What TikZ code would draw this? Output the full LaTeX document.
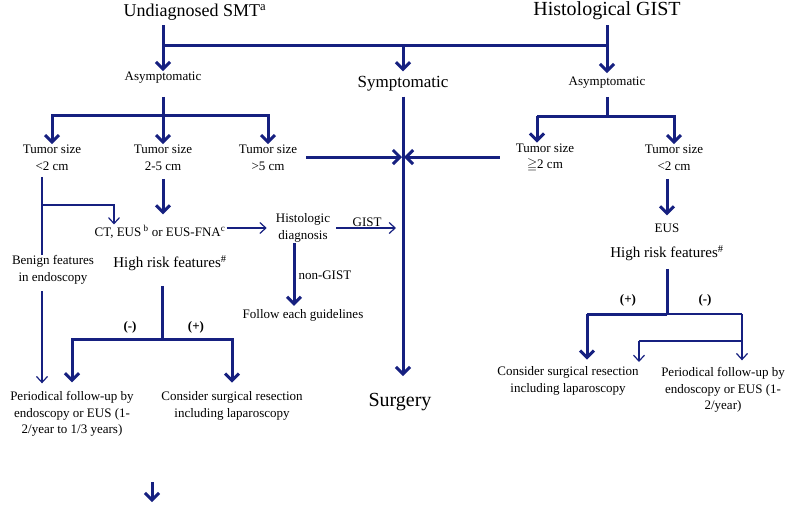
\documentclass[tikz,border=0pt]{standalone}
\usepackage{fontspec}
\setmainfont{Liberation Serif}
\usepackage{amsmath}
\usepackage{amssymb}
\usepackage{tikz}
\usepackage{xcolor}
\usetikzlibrary{arrows.meta}
\definecolor{flowblue}{RGB}{22,32,128}

\begin{document}
\begin{tikzpicture}[x=1pt,y=-1pt]
\tikzstyle{every node}+=[inner sep=1pt,align=center,font=\fontsize{13}{16.5}\selectfont]
\tikzstyle{thickline}=[draw=flowblue,line width=3pt]
\tikzstyle{medline}=[draw=flowblue,line width=2pt]
\tikzstyle{thinline}=[draw=flowblue,line width=1.2pt]
\tikzstyle{thickarrow}=[thickline,-{Straight Barb[length=7pt,width=14pt]}]
\tikzstyle{thinarrow}=[thinline,-{Straight Barb[length=6pt,width=11pt]}]
\tikzstyle{signlabel}=[font=\fontsize{13}{16}\selectfont\bfseries]
\useasboundingbox (0,0) rectangle (793,504);
\draw (195,12) node[font=\fontsize{18}{20}\selectfont] (smt) {Undiagnosed SMT\textsuperscript{a}};
\draw (607,11) node[font=\fontsize{20}{22}\selectfont] (gist) {Histological GIST};
\draw (163,78) node (asymL) {Asymptomatic};
\draw (403,84) node[font=\fontsize{17}{19}\selectfont] (sympt) {Symptomatic};
\draw (607,83) node (asymR) {Asymptomatic};
\draw (52,158) node (ts1) {Tumor size\\<2 cm};
\draw (163,158) node (ts2) {Tumor size\\2-5 cm};
\draw (268,158) node (ts3) {Tumor size\\>5 cm};
\draw (545,158) node (ts4) {Tumor size\\$\geqq$2 cm};
\draw (674,158) node (ts5) {Tumor size\\<2 cm};
\draw (160,232) node (ct) {CT, EUS\,\textsuperscript{b} or EUS-FNA\textsuperscript{c}};
\draw (303,228) node (histo) {Histologic\\diagnosis};
\draw (303,315) node (follow) {Follow each guidelines};
\draw (53,270) node (benign) {Benign features\\in endoscopy};
\draw (170,263) node[font=\fontsize{15}{18}\selectfont] (hrL) {High risk features\textsuperscript{\#}};
\draw (72,414) node (perL) {Periodical follow-up by\\endoscopy or EUS (1-\\2/year to 1/3 years)};
\draw (232,406) node (consL) {Consider surgical resection\\including laparoscopy};
\draw (400,402) node[font=\fontsize{20}{22}\selectfont] (surgery) {Surgery};
\draw (667,228) node (eus) {EUS};
\draw (667,253) node[font=\fontsize{15}{18}\selectfont] (hrR) {High risk features\textsuperscript{\#}};
\draw (568,381) node (consR) {Consider surgical resection\\including laparoscopy};
\draw (723,390) node (perR) {Periodical follow-up by\\endoscopy or EUS (1-\\2/year)};
\draw (130,327) node[signlabel] (negL) {(-)};
\draw (196,327) node[signlabel] (posL) {(+)};
\draw (628,300) node[signlabel] (posR) {(+)};
\draw (705,300) node[signlabel] (negR) {(-)};
\coordinate (j1) at (163,45);
\coordinate (j2) at (607,45);
\coordinate (j3) at (403,45);
\coordinate (j4) at (163,115);
\coordinate (j5) at (607,116);
\coordinate (j6) at (537,116);
\coordinate (cross) at (403,157);
\coordinate (k1) at (42,205);
\coordinate (k2) at (114,205);
\coordinate (h1) at (162,339);
\coordinate (m1) at (667,314);
\coordinate (m2) at (587,314);
\coordinate (m3) at (742,314);
\coordinate (m4) at (742,341);
\coordinate (m5) at (639,341);
\coordinate (m6) at (639,362);
\coordinate (s1) at (152,482);
\coordinate (s2) at (152,502);
\draw[thickline] (j1) -- (j2);
\draw[thickarrow,shorten <=4pt] (smt.south -| j1) -- (asymL.north);
\draw[thickarrow,shorten <=4pt,shorten >=3pt] (gist.south) -- (asymR.north);
\draw[thickarrow,shorten >=4pt] (j3) -- (sympt.north);
\draw[thickline,shorten <=12pt] (asymL.south) -- (j4);
\draw[thickarrow] (j4) -| (ts1.north);
\draw[thickarrow] (j4) -- (ts2.north);
\draw[thickarrow] (j4) -| (ts3.north);
\draw[thickline,shorten <=7pt] (asymR.south) -- (j5);
\draw[thickline] (j5) -- (j6);
\draw[thickarrow] (j6) -- (j6 |- ts4.north);
\draw[thickarrow] (j5) -| (ts5.north);
\draw[thickarrow,shorten <=8pt,shorten >=1pt] (ts3.east |- cross) -- (cross);
\draw[thickarrow,shorten <=15pt,shorten >=1pt] (ts4.west |- cross) -- (cross);
\draw[thickarrow,shorten <=4pt,shorten >=16pt] (sympt.south) -- (sympt.south |- surgery.north);
\draw[thinline,shorten <=5pt] (ts1.south -| k1) -- (benign.north -| k1);
\draw[thinarrow] (k1) -- (k2) -- (k2 |- ct.north);
\draw[thinarrow,shorten <=6pt,shorten >=7pt] (benign.south -| k1) -- (perL.north -| k1);
\draw[thickarrow,shorten <=7pt,shorten >=10pt] (ts2.south) -- (ts2.south |- ct.north);
\draw[thinarrow,shorten >=8pt] (ct.east |- histo) -- (histo.west);
\draw[thinarrow,shorten <=5pt,shorten >=7pt] (histo.east) -- (histo.east -| sympt) node[midway,above] (lgist) {GIST};
\draw[thickarrow,shorten >=2pt] ([xshift=-9pt]histo.south) -- ([xshift=-9pt]histo.south |- follow.north) node[midway,right,xshift=2pt] (lnon) {non-GIST};
\draw[thickline,shorten <=14pt] (hrL.south -| h1) -- (h1);
\draw[thickarrow,shorten >=8pt] (h1) -| (perL.north);
\draw[thickarrow,shorten >=8pt] (h1) -| (consL.north);
\draw[thickarrow,shorten <=7pt,shorten >=7pt] (ts5.south -| eus) -- (eus.north);
\draw[thickline,shorten <=7pt] (hrR.south) -- (m1);
\draw[thickline] (m1) -- (m2);
\draw[thickarrow,shorten >=6pt] (m2) -- (m2 |- consR.north);
\draw[medline] (m1) -- (m3);
\draw[thinarrow,shorten >=6pt] (m3) -- (m3 |- perR.north);
\draw[thinline] (m4) -- (m5);
\draw[thinarrow] (m5) -- (m6);
\draw[thickarrow] (s1) -- (s2);
\end{tikzpicture}
\end{document}
